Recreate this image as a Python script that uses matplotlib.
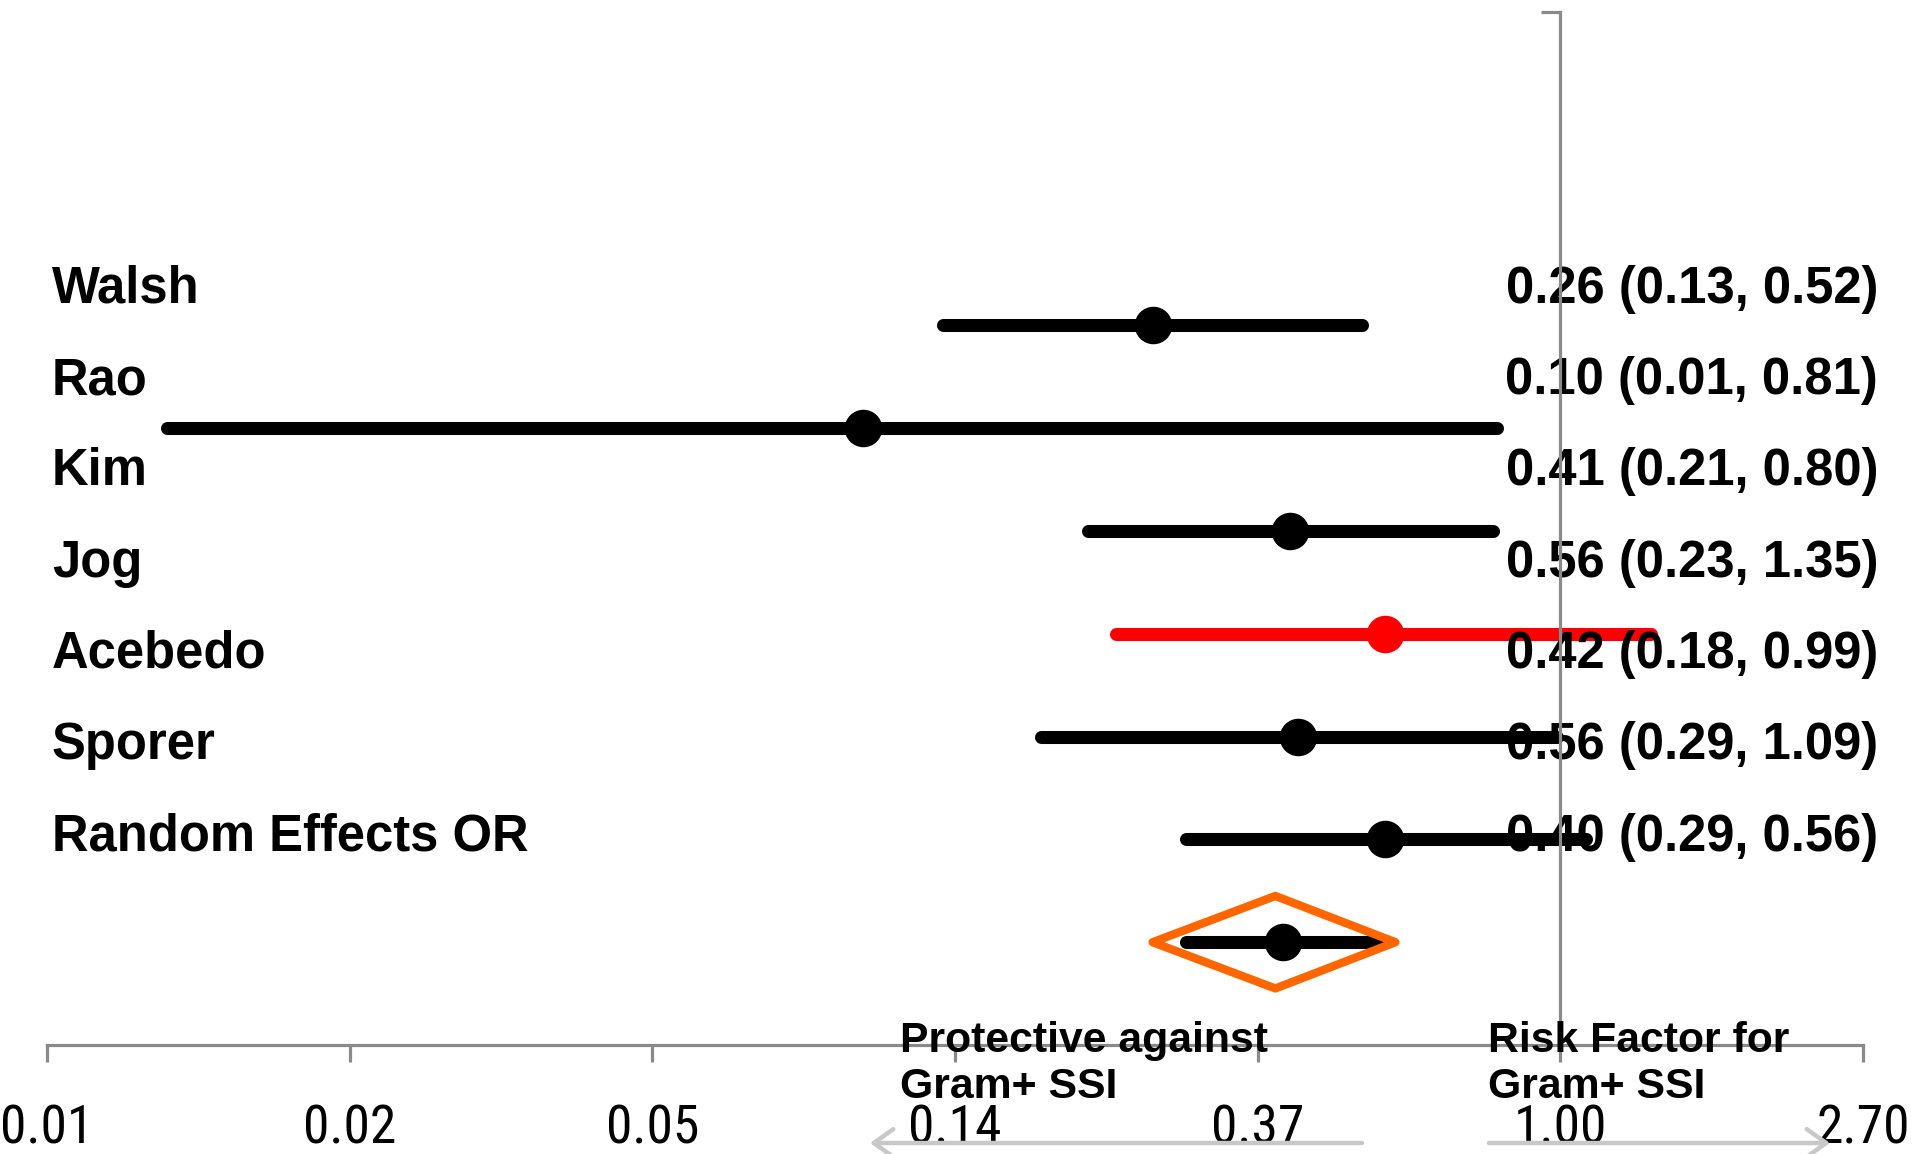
import numpy as np
import matplotlib
matplotlib.use("Agg")
import matplotlib.pyplot as plt
from matplotlib import font_manager
from matplotlib.patches import Polygon, FancyArrowPatch, ArrowStyle
from matplotlib.ticker import NullLocator
from matplotlib.transforms import blended_transform_factory

# ---------------- data ----------------
studies = ["Walsh", "Rao", "Kim", "Jog", "Acebedo", "Sporer", "Random Effects OR"]
odds_ratio = [0.26, 0.10, 0.41, 0.56, 0.42, 0.56, 0.40]
ci_low = [0.13, 0.01, 0.21, 0.23, 0.18, 0.29, 0.29]
ci_high = [0.52, 0.81, 0.80, 1.35, 0.99, 1.09, 0.56]
value_labels = ["0.26 (0.13, 0.52)", "0.10 (0.01, 0.81)", "0.41 (0.21, 0.80)",
                "0.56 (0.23, 1.35)", "0.42 (0.18, 0.99)", "0.56 (0.29, 1.09)",
                "0.40 (0.29, 0.56)"]
row_pos = [7, 6, 5, 4, 3, 2, 1]
line_colors = ["black", "black", "black", "red", "black", "black", "black"]
diamond_low, diamond_mid, diamond_high = 0.26, 0.39, 0.58
tick_exponents = [-5, -4, -3, -2, -1, 0, 1]
tick_labels = ["0.01", "0.02", "0.05", "0.14", "0.37", "1.00", "2.70"]

# ---------------- fonts ----------------
avail = {f.name for f in font_manager.fontManager.ttflist}
bold_font = "Liberation Sans" if "Liberation Sans" in avail else "DejaVu Sans"
if "Liberation Sans Narrow" in avail:
    narrow_font, tick_size = "Liberation Sans Narrow", 38
elif "Roboto Condensed" in avail:
    narrow_font, tick_size = "Roboto Condensed", 38.5
else:
    narrow_font, tick_size = bold_font, 34

GREY = "#8a8a8a"
W, H = 1917, 1154

fig = plt.figure(figsize=(W / 100, H / 100), dpi=100)
ax = fig.add_axes([47 / W, (H - 1045) / H, (1863 - 47) / W, 1033 / H])
ax.set_xscale("log")
ax.set_xlim(np.exp(tick_exponents[0]), np.exp(tick_exponents[-1]))
ax.set_ylim(0, 10.05)

# spines
ax.spines["top"].set_visible(False)
ax.spines["right"].set_visible(False)
ax.spines["left"].set_position(("data", 1.0))
for s in ("left", "bottom"):
    ax.spines[s].set_color(GREY)
    ax.spines[s].set_linewidth(2.3)
ax.spines["left"].set_zorder(10)

ax.set_xticks(np.exp(tick_exponents))
ax.set_xticklabels(tick_labels)
ax.xaxis.set_minor_locator(NullLocator())
ax.tick_params(axis="x", which="major", direction="out", length=12, width=2.3,
               color=GREY, pad=30 + (38 - tick_size) * 0.35, labelsize=tick_size)
for lab in ax.get_xticklabels():
    lab.set_fontfamily(narrow_font)
ax.set_yticks([10.05])
ax.set_yticklabels([""])
ax.yaxis.set_minor_locator(NullLocator())
ax.tick_params(axis="y", direction="out", length=14, width=2.3, color=GREY)

# CI lines and points
for orv, lo, hi, y, c in zip(odds_ratio, ci_low, ci_high, row_pos, line_colors):
    ax.plot([lo, hi], [y, y], color=c, lw=9.4, solid_capstyle="round", zorder=3)
    ax.plot([orv], [y], "o", ms=26, color=c, mec=c, zorder=4)

# diamond for pooled estimate
yd = row_pos[-1]
dh = 0.45
diamond = Polygon([(diamond_low, yd), (diamond_mid, yd + dh), (diamond_high, yd),
                   (diamond_mid, yd - dh)], closed=True, fill=False,
                  edgecolor="#FF6600", lw=6, joinstyle="round", zorder=5)
ax.add_patch(diamond)

# table text
trans = blended_transform_factory(fig.transFigure, ax.transData)
for k, (name, val) in enumerate(zip(studies, value_labels)):
    yb = 7.22 - 0.888 * k
    ax.text(52 / W, yb, name, transform=trans, ha="left", va="baseline",
            fontsize=36.5, fontweight="bold", family=bold_font, zorder=6)
    ax.text(1878 / W, yb, val, transform=trans, ha="right", va="baseline",
            fontsize=36.5, fontweight="bold", family=bold_font, zorder=6)

# direction labels
for x, l1, l2 in [(900, "Protective against", "Gram+ SSI"),
                  (1488, "Risk Factor for", "Gram+ SSI")]:
    fig.text(x / W, 1 - 1052 / H, l1, ha="left", va="baseline", fontsize=30.8,
             fontweight="bold", family=bold_font, zorder=20)
    fig.text(x / W, 1 - 1098 / H, l2, ha="left", va="baseline", fontsize=30.8,
             fontweight="bold", family=bold_font, zorder=20)

# direction arrows
ya = 1 - 1143 / H
for x0, x1 in [(1362, 870), (1489, 1830)]:
    arr = FancyArrowPatch((x0 / W, ya), (x1 / W, ya), transform=fig.transFigure,
                          arrowstyle=ArrowStyle("->", head_length=14, head_width=10),
                          mutation_scale=1, color="#c8c8c8", lw=3.2,
                          shrinkA=0, shrinkB=0, zorder=25)
    fig.add_artist(arr)

fig.savefig("out.png", dpi=100)
